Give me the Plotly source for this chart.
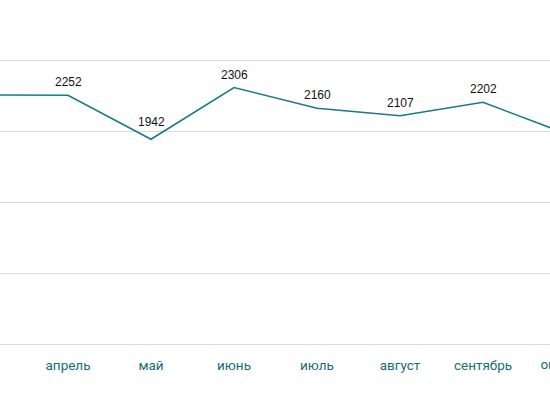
import plotly.graph_objects as go

months = ["март", "апрель", "май", "июнь", "июль", "август", "сентябрь", "октябрь"]
values = [2254, 2252, 1942, 2306, 2160, 2107, 2202, 1981]
value_labels = ["2254", "2252", "1942", "2306", "2160", "2107", "2202", "1981"]
grid_values = [500, 1000, 1500, 2000, 2500]

W, H = 550, 410
BOTTOM = 64  # space under the plot area for month names

x_idx = list(range(len(months)))
x_range = [0.1807, 6.8072]
y_range = [485.9, 2922.5]

line_color = "#1a7a85"
tick_color = "#156d79"
tick_font = dict(family="Roboto", size=13.5, color=tick_color)

span = x_range[1] - x_range[0]
inside = [i for i in x_idx if x_range[0] <= i <= x_range[1]]


def partly_visible(i):
    centre = (i - x_range[0]) / span * W
    half = len(months[i]) * 3.6
    return centre + half > 0 and centre - half < W


edge = [i for i in x_idx if i not in inside and partly_visible(i)]

fig = go.Figure()
fig.add_trace(go.Scatter(
    x=x_idx, y=values, mode="lines",
    line=dict(color=line_color, width=1.6),
    hoverinfo="skip", xaxis="x", yaxis="y",
))

# month names whose tick lies just beyond the visible edge: drawn on a helper
# full-page subplot sharing the x scale, clipped at the page edge
fig.add_trace(go.Scatter(
    x=edge, y=[H - 366] * len(edge), mode="text",
    text=[months[i] for i in edge], textposition="middle center",
    textfont=tick_font, hoverinfo="skip", cliponaxis=True,
    xaxis="x2", yaxis="y2",
))

# value labels above the points (deep valleys get a little more room)
for i in x_idx:
    prev_v = values[i - 1] if i > 0 else values[i]
    next_v = values[i + 1] if i < len(values) - 1 else values[i]
    deep_valley = min(prev_v, next_v) - values[i] > 100
    fig.add_annotation(
        x=i, y=values[i], xref="x", yref="y", text=value_labels[i],
        showarrow=False, yshift=17.5 if deep_valley else 13,
        font=dict(family="Liberation Sans, Arial", size=12, color="#111111"),
    )

fig.update_layout(
    width=W, height=H,
    margin=dict(l=0, r=0, t=0, b=0, autoexpand=False),
    plot_bgcolor="rgba(0,0,0,0)", paper_bgcolor="white",
    showlegend=False,
    xaxis=dict(
        domain=[0, 1], anchor="y",
        range=x_range, tickmode="array", tickvals=inside,
        ticktext=[months[i] for i in inside],
        showgrid=False, zeroline=False, showline=False,
        ticks="outside", ticklen=7, tickcolor="rgba(0,0,0,0)",
        tickfont=tick_font,
    ),
    yaxis=dict(
        domain=[BOTTOM / H, 1], anchor="x",
        range=y_range, tickmode="array", tickvals=grid_values,
        showticklabels=False, showgrid=True, gridcolor="#d9d9d9", gridwidth=1,
        zeroline=False, showline=False,
    ),
    xaxis2=dict(domain=[0, 1], anchor="y2", range=x_range, visible=False),
    yaxis2=dict(domain=[0, 1], anchor="x2", range=[0, H], visible=False),
)

fig.write_html("out.html")
